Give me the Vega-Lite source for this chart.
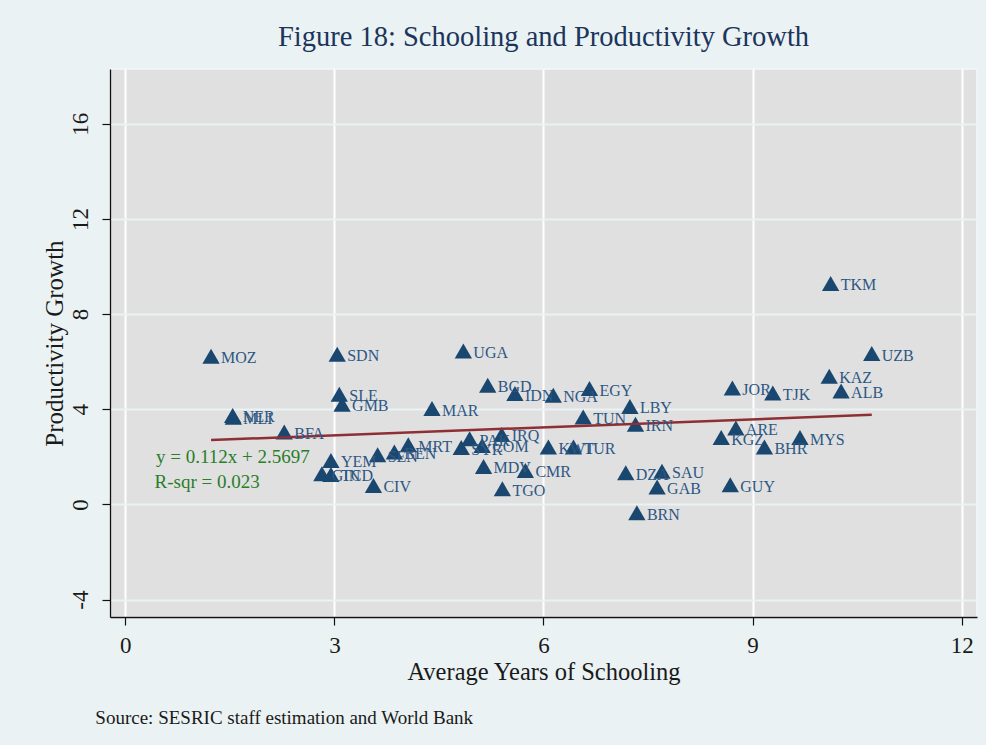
{
  "$schema": "https://vega.github.io/schema/vega-lite/v6.json",
  "width": 867,
  "height": 548,
  "autosize": {"type": "none"},
  "padding": {"left": 110, "top": 69, "right": 9, "bottom": 128},
  "background": "#eaf2f3",
  "title": {
    "text": "Figure 18: Schooling and Productivity Growth",
    "font": "Liberation Serif",
    "fontSize": 28.5,
    "fontWeight": "normal",
    "color": "#1c355c",
    "anchor": "middle",
    "offset": 18
  },
  "config": {
    "view": {"fill": "#e0e0e0", "stroke": "#f4f8f8", "strokeWidth": 1.5},
    "font": "Liberation Serif"
  },
  "datasets": {
    "countries": [
      {"country": "MOZ", "schooling": 1.23, "growth": 6.23},
      {"country": "SDN", "schooling": 3.04, "growth": 6.31},
      {"country": "SLE", "schooling": 3.07, "growth": 4.63},
      {"country": "GMB", "schooling": 3.11, "growth": 4.21},
      {"country": "MLI", "schooling": 1.55, "growth": 3.66},
      {"country": "NER", "schooling": 1.54, "growth": 3.74},
      {"country": "BFA", "schooling": 2.28, "growth": 3.04},
      {"country": "YEM", "schooling": 2.95, "growth": 1.85},
      {"country": "GIN", "schooling": 2.82, "growth": 1.29},
      {"country": "TCD", "schooling": 2.95, "growth": 1.26},
      {"country": "CIV", "schooling": 3.56, "growth": 0.80},
      {"country": "SEN", "schooling": 3.62, "growth": 2.09},
      {"country": "BEN", "schooling": 3.86, "growth": 2.20},
      {"country": "MRT", "schooling": 4.06, "growth": 2.51},
      {"country": "MAR", "schooling": 4.40, "growth": 4.03},
      {"country": "UGA", "schooling": 4.85, "growth": 6.45},
      {"country": "BGD", "schooling": 5.20, "growth": 5.01},
      {"country": "IDN", "schooling": 5.59, "growth": 4.66},
      {"country": "NGA", "schooling": 6.14, "growth": 4.59},
      {"country": "EGY", "schooling": 6.66, "growth": 4.87},
      {"country": "LBY", "schooling": 7.24, "growth": 4.12},
      {"country": "TUN", "schooling": 6.57, "growth": 3.67},
      {"country": "IRN", "schooling": 7.32, "growth": 3.37},
      {"country": "SYR", "schooling": 4.82, "growth": 2.39},
      {"country": "PAK", "schooling": 4.94, "growth": 2.76},
      {"country": "COM", "schooling": 5.12, "growth": 2.48},
      {"country": "IRQ", "schooling": 5.40, "growth": 2.94},
      {"country": "MDV", "schooling": 5.14, "growth": 1.60},
      {"country": "CMR", "schooling": 5.74, "growth": 1.43},
      {"country": "TGO", "schooling": 5.41, "growth": 0.66},
      {"country": "KWT", "schooling": 6.07, "growth": 2.41},
      {"country": "TUR", "schooling": 6.43, "growth": 2.41},
      {"country": "DZA", "schooling": 7.18, "growth": 1.33},
      {"country": "SAU", "schooling": 7.70, "growth": 1.39},
      {"country": "GAB", "schooling": 7.63, "growth": 0.73},
      {"country": "BRN", "schooling": 7.34, "growth": -0.35},
      {"country": "GUY", "schooling": 8.68, "growth": 0.83},
      {"country": "KGZ", "schooling": 8.55, "growth": 2.81},
      {"country": "ARE", "schooling": 8.76, "growth": 3.21},
      {"country": "BHR", "schooling": 9.17, "growth": 2.41},
      {"country": "MYS", "schooling": 9.68, "growth": 2.81},
      {"country": "JOR", "schooling": 8.71, "growth": 4.89},
      {"country": "TJK", "schooling": 9.29, "growth": 4.68},
      {"country": "KAZ", "schooling": 10.10, "growth": 5.39},
      {"country": "ALB", "schooling": 10.27, "growth": 4.77},
      {"country": "UZB", "schooling": 10.71, "growth": 6.34},
      {"country": "TKM", "schooling": 10.12, "growth": 9.29}
    ],
    "fit": [
      {"schooling": 1.23, "growth": 2.7075},
      {"schooling": 10.71, "growth": 3.7692}
    ],
    "one": [{"n": 1}]
  },
  "data": {"name": "countries"},
  "layer": [
    {
      "mark": {"type": "point", "shape": "triangle-up", "filled": true, "size": 300, "color": "#1a476f", "opacity": 1},
      "encoding": {
        "x": {
          "field": "schooling",
          "type": "quantitative",
          "scale": {"domain": [-0.22, 12.22], "nice": false, "zero": false},
          "axis": {
            "title": "Average Years of Schooling",
            "values": [0, 3, 6, 9, 12],
            "labelExpr": "'' + datum.value",
            "grid": true,
            "gridColor": "#ffffff",
            "gridWidth": 2,
            "domainColor": "#111111",
            "domainWidth": 1.3,
            "tickColor": "#111111",
            "tickWidth": 1.2,
            "tickSize": 8,
            "labelFont": "Liberation Serif",
            "labelFontSize": 23,
            "labelColor": "#1a1a1a",
            "labelPadding": 9,
            "labelFlush": false,
            "titleFont": "Liberation Serif",
            "titleFontSize": 24.5,
            "titleFontWeight": "normal",
            "titleColor": "#1a1a1a",
            "titlePadding": 3
          }
        },
        "y": {
          "field": "growth",
          "type": "quantitative",
          "scale": {"domain": [-4.73, 18.3], "nice": false, "zero": false},
          "axis": {
            "title": "Productivity Growth",
            "values": [-4, 0, 4, 8, 12, 16],
            "labelExpr": "'' + datum.value",
            "grid": true,
            "gridColor": "#eaf2f3",
            "gridWidth": 2,
            "domainColor": "#111111",
            "domainWidth": 1.3,
            "tickColor": "#111111",
            "tickWidth": 1.2,
            "tickSize": 8,
            "labelAngle": -90,
            "labelFont": "Liberation Serif",
            "labelFontSize": 23,
            "labelColor": "#1a1a1a",
            "labelPadding": 10,
            "labelFlush": false,
            "titleFont": "Liberation Serif",
            "titleFontSize": 25,
            "titleFontWeight": "normal",
            "titleColor": "#1a1a1a",
            "titlePadding": 2
          }
        }
      }
    },
    {
      "data": {"name": "fit"},
      "mark": {"type": "line", "color": "#8e2f35", "strokeWidth": 2.5},
      "encoding": {
        "x": {"field": "schooling", "type": "quantitative"},
        "y": {"field": "growth", "type": "quantitative"}
      }
    },
    {
      "mark": {"type": "text", "align": "left", "baseline": "middle", "dx": 10, "dy": 2, "font": "Liberation Serif", "fontSize": 16, "color": "#2d5783"},
      "encoding": {
        "x": {"field": "schooling", "type": "quantitative"},
        "y": {"field": "growth", "type": "quantitative"},
        "text": {"field": "country"}
      }
    },
    {
      "data": {"name": "one"},
      "mark": {"type": "text", "text": "y = 0.112x + 2.5697", "align": "left", "baseline": "middle", "font": "Liberation Serif", "fontSize": 19, "color": "#2a7d2a"},
      "encoding": {
        "x": {"datum": 0.44, "type": "quantitative"},
        "y": {"datum": 2.0, "type": "quantitative"}
      }
    },
    {
      "data": {"name": "one"},
      "mark": {"type": "text", "text": "R-sqr = 0.023", "align": "left", "baseline": "middle", "font": "Liberation Serif", "fontSize": 19, "color": "#2a7d2a"},
      "encoding": {
        "x": {"datum": 0.42, "type": "quantitative"},
        "y": {"datum": 0.94, "type": "quantitative"}
      }
    },
    {
      "data": {"name": "one"},
      "mark": {"type": "text", "text": "Source: SESRIC staff estimation and World Bank", "align": "left", "baseline": "middle", "font": "Liberation Serif", "fontSize": 19, "color": "#1a1a1a"},
      "encoding": {
        "x": {"datum": -0.43, "type": "quantitative"},
        "y": {"datum": -8.98, "type": "quantitative"}
      }
    }
  ]
}
